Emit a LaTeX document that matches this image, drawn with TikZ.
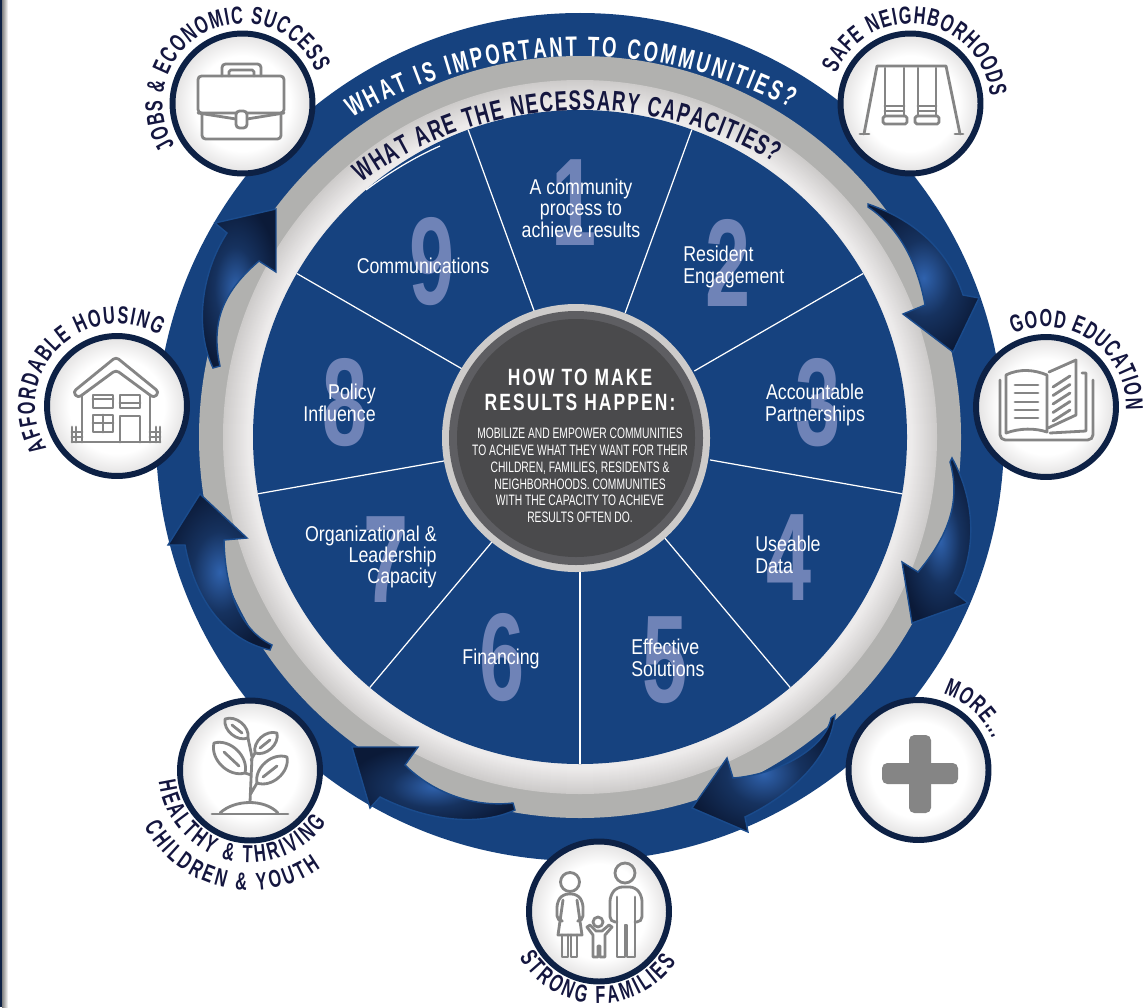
\documentclass[tikz,border=0pt]{standalone}
\usepackage{fontspec}
\usetikzlibrary{positioning,decorations.text}
\setmainfont[FakeStretch=0.83]{Liberation Sans}
\newfontfamily\bodyfont[FakeStretch=0.68]{Liberation Sans}
\newfontfamily\headfont[FakeStretch=0.74,LetterSpace=9]{Liberation Sans}
\newfontfamily\numfont[FakeStretch=0.65]{Liberation Sans}
\newfontfamily\arcfont[FakeStretch=0.66]{Liberation Sans}
\newcommand{\labelfont}{\arcfont\bfseries\fontsize{14}{14}\selectfont}
\newcommand{\ringfont}{\arcfont\bfseries\fontsize{16}{16}\selectfont}

\definecolor{wheelblue}{HTML}{16427F}
\definecolor{ringgray}{HTML}{B1B1AF}
\definecolor{ringlight}{HTML}{EDEBEB}
\definecolor{ringedge}{HTML}{CDCBCA}
\definecolor{inknavy}{HTML}{14163F}
\definecolor{discnavy}{HTML}{0D2145}
\definecolor{discedge}{HTML}{BDBABA}
\definecolor{icongray}{HTML}{858585}
\definecolor{numblue}{HTML}{6F83B7}
\definecolor{hubdark}{HTML}{4A4A4C}
\definecolor{hubmid}{HTML}{5E5E62}
\definecolor{arrowmid}{HTML}{2F62AD}
\definecolor{arrowsoft}{HTML}{16325F}
\definecolor{arrowdark}{HTML}{0B1A38}
\definecolor{arrowedge}{HTML}{1A4B8C}

\pgfdeclareradialshading{discglow}{\pgfpointorigin}{color(0bp)=(white); color(17bp)=(white); color(35.4bp)=(discedge); color(50bp)=(discedge)}
\pgfdeclareradialshading{arrowglow}{\pgfpointorigin}{color(0bp)=(arrowmid); color(13bp)=(arrowsoft); color(27bp)=(arrowdark); color(50bp)=(arrowdark)}

\tikzset{
  icondisc/.style={circle,minimum size=2.8cm,inner sep=0pt,draw=discnavy,line width=3.4pt,shade,shading=discglow},
  iconline/.style={draw=icongray,line width=1.6pt,line cap=round,line join=round},
  sectorline/.style={draw=white,line width=0.7pt},
  sectortext/.style={text=white,inner sep=0pt,font=\fontsize{12.2}{12.2}\selectfont},
  bignum/.style={text=numblue,inner sep=0pt,font=\numfont\bfseries\fontsize{71}{71}\selectfont},
  arrowshape/.style={shading=arrowglow,draw=arrowedge,line width=0.8pt,line join=miter}
}

% baseline arc: centre x, centre y, radius, start angle, end angle, text
\newcommand{\arclabel}[6]{%
  \begin{scope}[y=0.02cm]
  \path[postaction={decorate,decoration={text along path,text align={fit to path},text={#6}}}]
    (#1,-#2)+(#4:#3) arc[start angle=#4,end angle=#5,radius=#3];
  \end{scope}}

\begin{document}
\begin{tikzpicture}[x=0.02cm,y=-0.02cm]
\useasboundingbox (0,0) rectangle (1148,1007);

% left edge of the page
\fill[discnavy] (0,0) rectangle (2,1007);
\shade[left color=gray,right color=white] (2,0) rectangle (8,1007);

% wheel
\coordinate (hub) at (580,437);
\fill[wheelblue] (hub) circle[radius=424];
\fill[ringgray] (hub) circle[radius=381];
\foreach \rr in {0,...,29}{
  \pgfmathtruncatemacro\mixpct{min(100,\rr*4)}
  \fill[ringlight!\mixpct!ringedge] (hub) circle[radius=357-\rr];
}
\fill[wheelblue] (hub) circle[radius=327];
\foreach \ang in {-70,-30,10,50,90,130,170,210,250}
  \draw[sectorline] (hub)+(\ang:132) -- +(\ang:327);
\draw[sectorline] (366,190) .. controls (390,172) and (415,157) .. (440,146);

% numbers
\node[bignum] (num1) at (574,203) {1};
\node[bignum] (num2) at (728,263) {2};
\node[bignum] (num3) at (818,403) {3};
\node[bignum] (num4) at (789,558) {4};
\node[bignum] (num5) at (665,660) {5};
\node[bignum] (num6) at (502,658) {6};
\node[bignum] (num7) at (386,560) {7};
\node[bignum] (num8) at (345,403) {8};
\node[bignum] (num9) at (432,262) {9};

% sector labels
\node[sectortext,align=center] (cap1) at (581,208) {A community\\process to\\achieve results};
\node[sectortext,align=left,anchor=west] (cap2) at (683,267) {Resident\\Engagement};
\node[sectortext,align=center] (cap3) at (815,405) {Accountable\\Partnerships};
\node[sectortext,align=left,anchor=west] (cap4) at (755,555) {Useable\\Data};
\node[sectortext,align=left,anchor=west] (cap5) at (631,658) {Effective\\Solutions};
\node[sectortext] (cap6) at (501,659) {Financing};
\node[sectortext,align=right,anchor=east] (cap7) at (437,557) {Organizational \&\\Leadership\\Capacity};
\node[sectortext,align=right,anchor=east] (cap8) at (376,403) {Policy\\Influence};
\node[sectortext] (cap9) at (423,266) {Communications};

% centre
\fill[ringedge] (576,438) circle[radius=134];
\fill[hubmid] (576,438) circle[radius=127];
\fill[hubdark] (576,438) circle[radius=119];
\node[text=white,align=center,inner sep=0pt,font=\headfont\bfseries\fontsize{13.4}{14}\selectfont] (hubtitle) at (580,390)
  {HOW TO MAKE\\RESULTS HAPPEN:};
\node[text=white,align=center,inner sep=0pt,font=\bodyfont\fontsize{8.6}{9.5}\selectfont] (hubtext) at (580,475.5)
  {MOBILIZE AND EMPOWER COMMUNITIES\\TO ACHIEVE WHAT THEY WANT FOR THEIR\\CHILDREN, FAMILIES, RESIDENTS \&\\NEIGHBORHOODS. COMMUNITIES\\WITH THE CAPACITY TO ACHIEVE\\RESULTS OFTEN DO.};

% ring questions
\arclabel{580}{506}{450}{120.4}{62.2}{|\color{white}\ringfont|WHAT IS IMPORTANT TO COMMUNITIES?}
\arclabel{584}{485}{375}{126.3}{59.5}{|\color{inknavy}\ringfont|WHAT ARE THE NECESSARY CAPACITIES?}

% arrows
\shadedraw[arrowshape] (868,204) .. controls (920,222) and (950,255) .. (963,295) -- (979,298) -- (953,352) -- (903,314) -- (925,305) .. controls (918,265) and (900,228) .. (868,207) -- cycle;
\shadedraw[arrowshape] (952,458) .. controls (975,500) and (978,550) .. (955,593) -- (968,603) -- (912,623) -- (902,562) -- (918,572) .. controls (945,540) and (962,505) .. (950,462) -- cycle;
\shadedraw[arrowshape] (835,715) .. controls (830,760) and (790,795) .. (745,817) -- (748,832) -- (692,808) -- (727,758) -- (733,778) .. controls (775,775) and (825,750) .. (831,718) -- cycle;
\shadedraw[arrowshape] (515,810) .. controls (480,826) and (430,822) .. (380,797) -- (370,808) -- (352,747) -- (418,747) -- (405,765) .. controls (430,790) and (470,808) .. (513,803) -- cycle;
\shadedraw[arrowshape] (270,650) .. controls (225,640) and (195,600) .. (185,545) -- (168,545) -- (200,494) -- (247,538) -- (224,540) .. controls (225,590) and (240,630) .. (272,645) -- cycle;
\shadedraw[arrowshape] (213,368) .. controls (195,330) and (200,275) .. (227,233) -- (215,223) -- (276,209) -- (276,272) -- (259,261) .. controls (225,290) and (210,320) .. (220,366) -- cycle;

% icon discs
\node[icondisc] (jobs) at (242.5,103.5) {};
\node[icondisc] (safe) at (910.5,103.5) {};
\node[icondisc] (education) at (1046,407) {};
\node[icondisc] (more) at (918.5,770) {};
\node[icondisc] (families) at (599,911.5) {};
\node[icondisc] (healthy) at (250,770.5) {};
\node[icondisc] (housing) at (117,406) {};

% disc labels
\arclabel{242.5}{103.5}{80}{212}{23}{|\color{inknavy}\labelfont|JOBS {\&} ECONOMIC SUCCESS}
\arclabel{910.5}{103.5}{80}{158}{5}{|\color{inknavy}\labelfont|SAFE NEIGHBORHOODS}
\arclabel{1046}{407}{80}{114}{-2}{|\color{inknavy}\labelfont|GOOD EDUCATION}
\arclabel{918.5}{770}{80}{72}{23}{|\color{inknavy}\labelfont|MORE...}
\arclabel{599}{911.5}{92}{210}{327}{|\color{inknavy}\labelfont|STRONG FAMILIES}
\arclabel{250}{770.5}{92}{187}{326}{|\color{inknavy}\labelfont|HEALTHY {\&} THRIVING}
\arclabel{250}{770.5}{120}{208}{306}{|\color{inknavy}\labelfont|CHILDREN {\&} YOUTH}
\arclabel{117}{406}{82}{211}{59}{|\color{inknavy}\labelfont|AFFORDABLE HOUSING}

% briefcase
\draw[iconline,rounded corners=2pt] (198,76) rectangle (284,113);
\draw[iconline,rounded corners=2pt] (202,113) -- (202,139) -- (281,139) -- (281,113);
\draw[iconline] (198,113) -- (236,119) (247,119) -- (284,113);
\draw[iconline,rounded corners=2pt,fill=white] (236,111) rectangle (247,128);
\draw[iconline,rounded corners=2pt] (222,76) -- (222,64) -- (261,64) -- (261,76);
\draw[iconline,rounded corners=1pt] (229,76) -- (229,70) -- (254,70) -- (254,76);

% swings
\draw[iconline] (864,134) -- (877,66) -- (946,66) -- (960,134);
\draw[iconline] (860,134) -- (869,134) (955,134) -- (963,134);
\draw[iconline] (885,68) -- (885,116) (904,68) -- (904,116) (918,68) -- (918,116) (936,68) -- (936,116);
\draw[iconline,rounded corners=1pt] (883,116) rectangle (907,124);
\draw[iconline,rounded corners=1pt] (915,116) rectangle (939,124);
\draw[iconline] (885,106) -- (904,106) (885,111) -- (904,111) (918,106) -- (936,106) (918,111) -- (936,111);

% book
\draw[iconline,rounded corners=3pt] (1000,380) -- (1000,440) -- (1093,440) -- (1093,380);
\draw[iconline] (1006,375) .. controls (1020,368) and (1035,370) .. (1047,375) -- (1047,432) .. controls (1035,428) and (1020,428) .. (1006,433) -- cycle;
\draw[iconline] (1049,372) -- (1076,360) -- (1076,415) -- (1048,428);
\draw[iconline] (1082,373) -- (1086,373) -- (1086,431) -- (1050,433);
\foreach \yy in {385,393,402,410,418}
  \draw[iconline] (1015,\yy) -- (1038,\yy);
\foreach \yy in {0,8.5,17,25.5,34}
  \draw[iconline] (1053,387+\yy) -- (1070,376+\yy);

% plus
\fill[icongray,rounded corners=3pt] (909,735) rectangle (931,813);
\fill[icongray,rounded corners=3pt] (882,763) rectangle (958,784);

% family
\draw[iconline] (570,882) circle[radius=9.5];
\draw[iconline,rounded corners=3pt] (561,921) -- (557,921) -- (557,902) -- (563,894) -- (577,894) -- (583,902) -- (583,921) -- (579,921);
\draw[iconline] (563,900) -- (558,935) -- (582,935) -- (577,900);
\draw[iconline] (562,935) -- (562,957) -- (568,957) -- (568,935) (571,935) -- (571,957) -- (577,957) -- (577,935);
\draw[iconline] (625,873) circle[radius=10];
\draw[iconline,rounded corners=3pt] (617,922) -- (610,922) -- (610,896) -- (617,887) -- (635,887) -- (642,896) -- (642,922) -- (635,922);
\draw[iconline] (617,897) -- (617,957) -- (625,957) -- (625,925) -- (627,925) -- (627,957) -- (635,957) -- (635,897);
\draw[iconline] (598,922) circle[radius=5];
\draw[iconline] (587,927) -- (593,935) -- (593,957) -- (598,957) -- (598,946) -- (600,946) -- (600,957) -- (605,957) -- (605,935) -- (612,927) -- (609,925) -- (602,931) -- (596,931) -- (590,925) -- cycle;

% plant
\draw[iconline] (212,814) -- (288,814);
\draw[iconline] (220,813) .. controls (235,799) and (265,799) .. (278,813);
\draw[iconline] (250,802) -- (252,757) -- (248,738) (250,795) -- (257,783) (251,775) -- (245,773) (251,760) -- (255,753);
\draw[iconline] (248,738) to[bend left=60] (225,719) to[bend left=60] cycle;
\draw[iconline] (255,753) to[bend left=60] (277,733) to[bend left=60] cycle;
\draw[iconline] (245,773) to[bend left=60] (214,743) to[bend left=60] cycle;
\draw[iconline] (257,783) to[bend left=60] (287,757) to[bend left=60] cycle;
\draw[iconline] (242,733) -- (232,725) (260,748) -- (270,740) (239,766) -- (224,752) (263,777) -- (277,766);

% house
\draw[iconline,rounded corners=2pt] (116,357) -- (73,392) -- (78,398) -- (116,370) -- (154,398) -- (159,392) -- cycle;
\draw[iconline] (82,395) -- (82,442) (150,395) -- (150,442) (72,442) -- (160,442);
\draw[iconline] (93,395) rectangle (113,408) (93,399) -- (113,399);
\draw[iconline] (120,395) rectangle (140,408) (120,403) -- (140,403);
\draw[iconline] (93,415) rectangle (113,432) (103,415) -- (103,432) (93,423) -- (113,423);
\draw[iconline] (120,442) -- (120,416) -- (140,416) -- (140,442);
\draw[iconline] (72,427) -- (72,442) (76,427) -- (76,442) (72,432) -- (82,432) (72,437) -- (82,437);
\draw[iconline] (156,427) -- (156,442) (160,427) -- (160,442) (150,432) -- (160,432) (150,437) -- (160,437);
\end{tikzpicture}
\end{document}
